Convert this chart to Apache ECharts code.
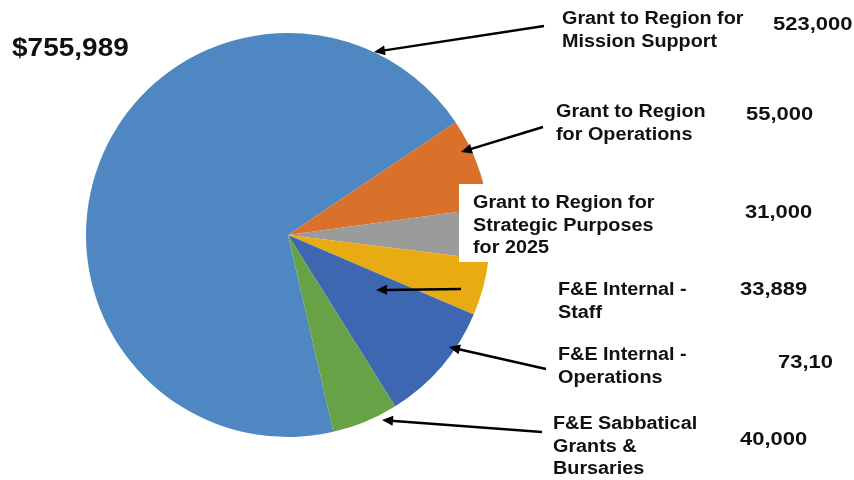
<!DOCTYPE html>
<html>
<head>
<meta charset="utf-8">
<script src="https://cdn.jsdelivr.net/npm/echarts@6/dist/echarts.min.js"></script>
<style>
  html, body { margin: 0; padding: 0; background: #fff; }
  #main { width: 854px; height: 480px; }
</style>
</head>
<body>
<div id="main"></div>
<script>
// data
var categories = [
    'Grant to Region for\nMission Support',
    'Grant to Region\nfor Operations',
    'Grant to Region for\nStrategic Purposes\nfor 2025',
    'F&E Internal -\nStaff',
    'F&E Internal -\nOperations',
    'F&E Sabbatical\nGrants &\nBursaries'
];
var values = [523000, 55000, 31000, 33889, 73100, 40000];
var valueLabels = ['523,000', '55,000', '31,000', '33,889', '73,10', '40,000'];
var totalLabel = '$755,989';
var colors = ['#4f87c2', '#d9712b', '#9b9b9b', '#e8ab12', '#3e67b2', '#67a346'];

// where the annotations sit (label x/y of first line, value x/y, arrow tail -> head)
var labelPos = [[562, 8], [556, 101], [473, 192], [558, 279], [558, 344], [553, 413]];
var valuePos = [[773, 25], [746, 115], [745, 213], [740, 290], [778, 363], [740, 440]];
var arrows = [
    [[544, 26], [374, 52]],
    [[543, 127], [461, 152]],
    null,
    [[461, 289], [376, 290]],
    [[546, 369], [449, 347]],
    [[542, 432], [382, 420]]
];

var chart = echarts.init(document.getElementById('main'));

var graphics = [];
// white box behind the strategic purposes label
graphics.push({
    type: 'rect', z: 100,
    shape: { x: 459, y: 184, width: 205, height: 78 },
    style: { fill: '#fff' }
});
graphics.push({
    type: 'text', z: 101, x: 12, y: 37, scaleX: 1.12,
    style: { text: totalLabel, font: 'bold 25px "Liberation Sans", Arial', fill: '#111' }
});

function arrow(tail, head) {
    var dx = head[0] - tail[0], dy = head[1] - tail[1];
    var len = Math.sqrt(dx * dx + dy * dy);
    var ux = dx / len, uy = dy / len;
    var hl = 11, hw = 5;
    var bx = head[0] - ux * hl, by = head[1] - uy * hl;
    graphics.push({
        type: 'line', z: 102,
        shape: { x1: tail[0], y1: tail[1], x2: bx + ux * 2, y2: by + uy * 2 },
        style: { stroke: '#000', lineWidth: 2.5 }
    });
    graphics.push({
        type: 'polygon', z: 102,
        shape: { points: [head, [bx - uy * hw, by + ux * hw], [bx + uy * hw, by - ux * hw]] },
        style: { fill: '#000' }
    });
}

categories.forEach(function (name, i) {
    graphics.push({
        type: 'text', z: 101, x: labelPos[i][0], y: labelPos[i][1], scaleX: 1.1,
        style: {
            text: name,
            font: 'bold 18px "Liberation Sans", Arial',
            lineHeight: 22.5,
            fill: '#111'
        }
    });
    graphics.push({
        type: 'text', z: 101, x: valuePos[i][0], y: valuePos[i][1], scaleX: 1.22,
        style: {
            text: valueLabels[i],
            font: 'bold 18px "Liberation Sans", Arial',
            verticalAlign: 'middle',
            fill: '#111'
        }
    });
    if (arrows[i]) arrow(arrows[i][0], arrows[i][1]);
});

var option = {
    animation: false,
    color: colors,
    series: [{
        type: 'pie',
        center: [288, 235],
        radius: 202,
        startAngle: 283,
        clockwise: true,
        label: { show: false },
        labelLine: { show: false },
        itemStyle: { borderWidth: 0 },
        emphasis: { disabled: true },
        data: categories.map(function (c, i) {
            return { name: c, value: values[i] };
        })
    }],
    graphic: graphics
};
chart.setOption(option);
</script>
</body>
</html>
